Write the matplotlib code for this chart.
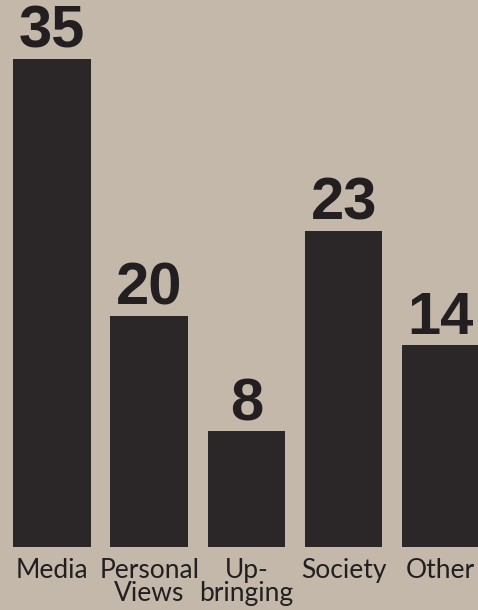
import matplotlib.pyplot as plt

categories = ["Media", "Personal\nViews", "Up-\nbringing", "Society", "Other"]
value_labels = ["35", "20", "8", "23", "14"]
# bar heights as drawn in the clipping (Personal Views bar is drawn short)
heights = [35, 16.6, 8.3, 22.7, 14.5]

bg = "#c3b8aa"
bar_color = "#2b2627"

fig = plt.figure(figsize=(4.78, 6.10), dpi=100, facecolor=bg)
ax = fig.add_axes([0, 63 / 610, 1, 547 / 610])
ax.set_facecolor(bg)

x = list(range(len(categories)))
bars = ax.bar(x, heights, width=0.80, color=bar_color)

for b, lab in zip(bars, value_labels):
    ax.annotate(lab, (b.get_x() + b.get_width() / 2, b.get_height()),
                xytext=(0, 8), textcoords="offset points",
                ha="center", va="baseline", fontsize=43, fontweight="bold",
                family="Liberation Sans", color="#231f20")

ax.set_xlim(-0.535, 4.383)
ax.set_ylim(0, 547 / 13.94)
ax.set_xticks(x)
ax.set_xticklabels(categories, fontsize=19, family="Lato", color="#231f20",
                   linespacing=0.88)
ax.tick_params(axis="x", length=0, pad=8)
ax.set_yticks([])
for s in ax.spines.values():
    s.set_visible(False)

fig.savefig("out.png", dpi=100, facecolor=bg)
